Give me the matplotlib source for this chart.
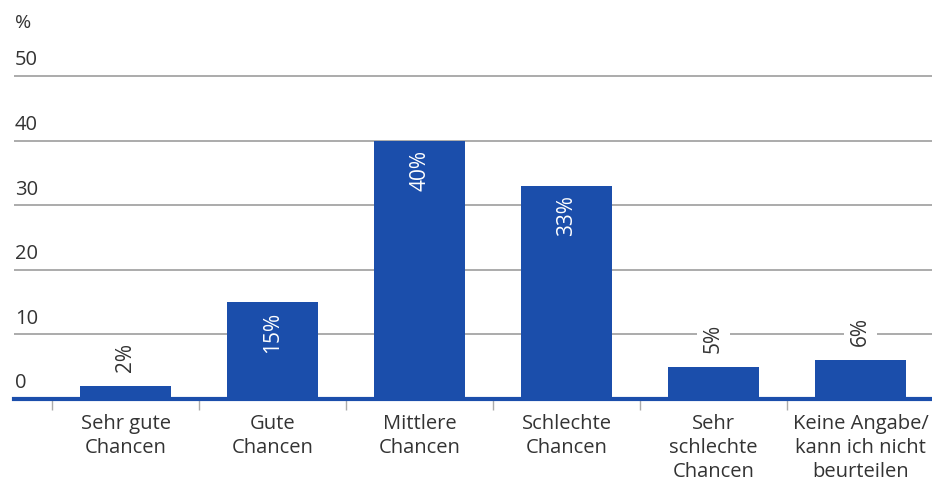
import numpy as np
import matplotlib.pyplot as plt
import matplotlib.transforms as mtransforms

plt.rcParams['font.family'] = ['Open Sans', 'DejaVu Sans']

categories = ['Sehr gute\nChancen', 'Gute\nChancen', 'Mittlere\nChancen',
              'Schlechte\nChancen', 'Sehr\nschlechte\nChancen',
              'Keine Angabe/\nkann ich nicht\nbeurteilen']
values = [2, 15, 40, 33, 5, 6]
yticks = [0, 10, 20, 30, 40, 50]

blue = '#1b4eab'
grid_col = '#ababab'
text_col = '#333333'

fig = plt.figure(figsize=(9.32, 4.86), dpi=100)
ax = fig.add_axes([14 / 932, 87 / 486, 918 / 932, 52 * 6.46 / 486])

x = np.arange(len(categories))
ax.set_xlim(-0.7585, 5.486)
ax.set_ylim(0, 52)

# horizontal grid and y labels sitting above each line
trans = mtransforms.blended_transform_factory(ax.transAxes, ax.transData)
for v in yticks[1:]:
    ax.axhline(v, color=grid_col, lw=1.4, zorder=1)
for v in yticks:
    ax.annotate(str(v), xy=(0.001, v), xycoords=trans, xytext=(0, 4),
                textcoords='offset points', ha='left', va='bottom',
                fontsize=14.5, color=text_col)
fig.text(15 / 932, 1 - 23 / 486, '%', ha='left', va='center',
         fontsize=14, color=text_col)

ax.bar(x, values, width=0.62, color=blue, zorder=3)
ax.axhline(0, color=blue, lw=3, zorder=4, clip_on=False)

# value labels: inside tall bars, above short ones
for xi, v in zip(x, values):
    lab = f'{v}%'
    if v >= 10:
        ax.annotate(lab, xy=(xi, v), xytext=(0, -7), textcoords='offset points',
                    rotation=90, ha='center', va='top', fontsize=15,
                    color='white', zorder=5)
    else:
        ax.annotate(lab, xy=(xi, v), xytext=(0, 10), textcoords='offset points',
                    rotation=90, ha='center', va='bottom', fontsize=15,
                    color=text_col, zorder=5,
                    bbox=dict(boxstyle='square,pad=0.3', fc='white', ec='none'))

ax.set_xticks(x)
ax.set_xticklabels(categories, fontsize=14.5, color=text_col, linespacing=1.27)
ax.tick_params(axis='x', which='major', length=0, pad=11)
ax.set_xticks(np.arange(len(categories)) - 0.5, minor=True)
ax.tick_params(axis='x', which='minor', length=8, width=1, color=grid_col,
               direction='out')
ax.set_yticks([])
for s in ax.spines.values():
    s.set_visible(False)

fig.savefig('out.png', dpi=100, facecolor='white')
